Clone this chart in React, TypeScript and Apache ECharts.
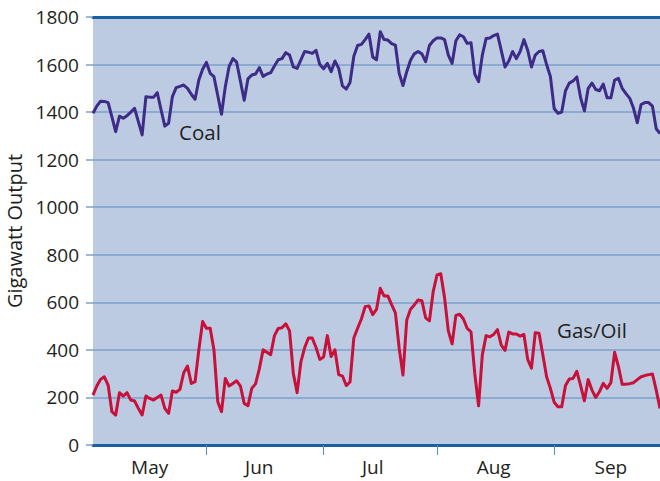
import React, { useEffect, useRef } from "react";
import * as echarts from "echarts";

const months = ["May", "Jun", "Jul", "Aug", "Sep"];
const monthDays = [31, 30, 31, 31, 28];
const labelDayOfMonth = [16, 14, 14, 15, 15];
const tickDayIndex = [30, 61, 91, 122];
const yTicks = [0, 200, 400, 600, 800, 1000, 1200, 1400, 1600, 1800];

const coal = [
  1395, 1425, 1446, 1445, 1440, 1380, 1318, 1383, 1374, 1385,
  1400, 1416, 1360, 1304, 1465, 1463, 1462, 1482, 1410, 1341,
  1353, 1465, 1503, 1508, 1514, 1500, 1475, 1454, 1535, 1580,
  1609, 1563, 1549, 1470, 1391, 1507, 1591, 1625, 1610, 1530,
  1450, 1540, 1556, 1560, 1587, 1550, 1560, 1566, 1594, 1620,
  1625, 1650, 1640, 1590, 1584, 1620, 1655, 1652, 1647, 1660,
  1600, 1582, 1605, 1570, 1615, 1584, 1510, 1497, 1525, 1635,
  1680, 1685, 1705, 1728, 1632, 1620, 1738, 1705, 1703, 1688,
  1682, 1563, 1512, 1570, 1618, 1645, 1655, 1645, 1612, 1680,
  1700, 1712, 1712, 1705, 1640, 1605, 1700, 1725, 1717, 1689,
  1692, 1560, 1528, 1640, 1710, 1712, 1722, 1728, 1660, 1590,
  1615, 1655, 1625, 1655, 1705, 1660, 1590, 1640, 1655, 1658,
  1600, 1550, 1415, 1395, 1400, 1490, 1522, 1531, 1548, 1460,
  1405, 1500, 1522, 1495, 1490, 1518, 1460, 1460, 1535, 1542,
  1500, 1478, 1458, 1416, 1355, 1432, 1440, 1440, 1425, 1330, 1310,
];

const gasOil = [
  210, 248, 276, 287, 252, 140, 126, 220, 206, 220,
  189, 185, 154, 126, 206, 196, 189, 200, 210, 154,
  133, 227, 222, 234, 304, 332, 259, 266, 400, 519,
  491, 491, 400, 182, 140, 280, 248, 259, 270, 248,
  175, 165, 238, 257, 320, 400, 390, 380, 460, 490,
  493, 510, 480, 300, 220, 350, 410, 450, 450, 410,
  360, 370, 460, 372, 400, 296, 290, 250, 265, 450,
  491, 530, 582, 585, 548, 570, 659, 627, 627, 590,
  556, 407, 294, 526, 571, 589, 610, 607, 535, 522,
  645, 715, 720, 620, 480, 425, 545, 550, 530, 490,
  476, 300, 165, 380, 460, 455, 465, 485, 420, 398,
  475, 467, 467, 458, 465, 360, 323, 472, 470, 380,
  287, 238, 180, 161, 161, 250, 278, 280, 310, 250,
  186, 275, 231, 200, 225, 259, 238, 262, 390, 330,
  255, 256, 258, 262, 275, 287, 292, 296, 299, 231, 154,
];

const days: string[] = [];
const labelIndex: Record<number, string> = {};
months.forEach((m, mi) => {
  for (let d = 1; d <= monthDays[mi]; d++) {
    if (d === labelDayOfMonth[mi]) labelIndex[days.length] = m;
    days.push(m + " " + d);
  }
});

const FONT = "'Open Sans', Lato, sans-serif";
const TEXT = "#231f20";
const GRID = "#7d9fcc";
const AXIS = "#1a5f9f";

export default function App() {
  const ref = useRef<HTMLDivElement>(null);
  useEffect(() => {
    if (!ref.current) return;
    const chart = echarts.init(ref.current, undefined, { renderer: "svg" });
    chart.setOption({
      animation: false,
      backgroundColor: "#ffffff",
      textStyle: { fontFamily: FONT },
      grid: {
        left: 93,
        right: 0,
        top: 17,
        bottom: 36,
        show: true,
        containLabel: false,
        outerBoundsMode: "none",
        backgroundColor: "#bccbe2",
        borderWidth: 0,
      },
      xAxis: [
        {
          type: "category",
          data: days,
          boundaryGap: false,
          axisLine: { show: true, lineStyle: { color: AXIS, width: 3 } },
          axisTick: {
            show: true,
            length: 10,
            interval: (i: number) => tickDayIndex.includes(i),
            lineStyle: { color: "#5a89c2", width: 1 },
          },
          axisLabel: {
            interval: (i: number) => labelIndex[i] !== undefined,
            formatter: (_v: string, i: number) => labelIndex[i] || "",
            color: TEXT,
            fontSize: 19,
            fontFamily: FONT,
            margin: 12,
          },
          splitLine: { show: false },
        },
        {
          type: "category",
          data: days,
          boundaryGap: false,
          position: "top",
          axisLine: { show: true, lineStyle: { color: AXIS, width: 3 } },
          axisTick: { show: false },
          axisLabel: { show: false },
        },
      ],
      yAxis: {
        type: "value",
        min: yTicks[0],
        max: yTicks[yTicks.length - 1],
        interval: 200,
        name: "Gigawatt Output",
        nameLocation: "middle",
        nameGap: 67,
        nameTextStyle: { color: TEXT, fontSize: 20, fontFamily: FONT },
        axisLine: { show: false },
        axisTick: { show: true, length: 7, lineStyle: { color: GRID, width: 1.5 } },
        axisLabel: {
          color: TEXT,
          fontSize: 19,
          fontFamily: FONT,
          margin: 14,
          formatter: (v: number) => String(v),
        },
        splitLine: { show: true, lineStyle: { color: GRID, width: 1.5 } },
      },
      series: [
        {
          name: "Coal",
          type: "line",
          data: coal,
          showSymbol: false,
          symbol: "none",
          lineStyle: { color: "#3d2b88", width: 3, join: "round" },
          z: 3,
        },
        {
          name: "Gas/Oil",
          type: "line",
          data: gasOil,
          showSymbol: false,
          symbol: "none",
          lineStyle: { color: "#c8103a", width: 3, join: "round" },
          z: 3,
        },
      ],
      graphic: [
        {
          type: "text",
          left: 179,
          top: 121,
          style: { text: "Coal", fill: TEXT, fontSize: 20.5, fontFamily: FONT },
        },
        {
          type: "text",
          left: 557,
          top: 319,
          style: { text: "Gas/Oil", fill: TEXT, fontSize: 20.5, fontFamily: FONT },
        },
      ],
    });
    return () => chart.dispose();
  }, []);
  return (
    <div
      ref={ref}
      style={{ position: "fixed", left: 0, top: 0, width: 660, height: 481 }}
    />
  );
}
